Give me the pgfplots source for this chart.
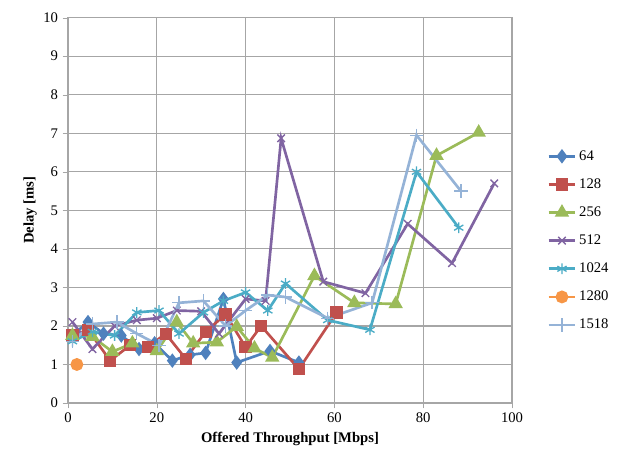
\documentclass[border=0pt]{standalone}
\usepackage{fontspec}
\setmainfont{Liberation Serif}
\usepackage{pgfplots}
\pgfplotsset{compat=1.18}
\usetikzlibrary{plotmarks}
\definecolor{c64}{HTML}{4F81BD}
\definecolor{c128}{HTML}{C0504D}
\definecolor{c256}{HTML}{9BBB59}
\definecolor{c512}{HTML}{8064A2}
\definecolor{c1024}{HTML}{4BACC6}
\definecolor{c1280}{HTML}{F79646}
\definecolor{c1518}{HTML}{95B3D7}
\definecolor{gridc}{HTML}{A6A6A6}
\begin{document}
\begin{tikzpicture}
\begin{axis}[
  scale only axis, width=333pt, height=289pt,
  xmin=0, xmax=100, ymin=0, ymax=10,
  xtick={0,20,...,100}, ytick={0,1,...,10},
  grid=major, major grid style={gridc, line width=0.9pt},
  axis line style={gridc, line width=0.9pt},
  tick style={gridc}, major tick length=4pt,
  tick align=outside, xtick pos=bottom, ytick pos=left,
  /pgf/number format/assume math mode=true,
  ticklabel style={font=\fontsize{11}{12}\selectfont},
  xlabel={\textbf{Offered Throughput [Mbps]}},
  ylabel={\textbf{Delay [ms]}},
  ylabel style={yshift=-2pt},
  label style={font=\fontsize{11}{13}\selectfont},
  every axis plot/.append style={line width=2pt},
  legend style={draw=none, at={(1.07,0.67)}, anchor=north west,
    font=\fontsize{11}{12}\selectfont, row sep=8.3pt},
  legend cell align=left,
  legend image code/.code={
    \draw[#1, mark=none] (0cm,0cm) -- (0.7cm,0cm);
    \draw[#1, only marks] plot coordinates {(0.35cm,0cm)};},
]
\addplot[c64, mark=diamond*, mark size=3.8pt] coordinates {
(1,1.75)(4.5,2.1)(8,1.8)(12,1.75)(16,1.4)(19.5,1.55)(23.5,1.1)(27.5,1.25)(31,1.3)(35,2.7)(38,1.05)(45.5,1.35)(52,1.05)};
\addlegendentry{64}
\addplot[c128, mark=square*, mark size=3.6pt] coordinates {
(1,1.75)(4.5,1.9)(9.5,1.1)(14,1.5)(18,1.45)(22,1.8)(26.5,1.15)(31,1.85)(35.5,2.3)(40,1.45)(43.5,2.0)(52,0.88)(60.5,2.35)};
\addlegendentry{128}
\addplot[c256, mark=triangle*, mark size=4.3pt] coordinates {
(1,1.75)(5.5,1.72)(10,1.33)(14.5,1.55)(20,1.35)(24.5,2.1)(28.2,1.55)(33.5,1.58)(38,1.98)(42,1.42)(46,1.18)(55.5,3.3)(64.5,2.6)(73.8,2.57)(83,6.42)(92.5,7.02)};
\addlegendentry{256}
\addplot[c512, mark=x, mark size=4pt, mark options={line width=1pt}] coordinates {
(1,2.1)(5.5,1.4)(10.5,2.0)(15.5,2.15)(20,2.2)(24.5,2.4)(30,2.38)(34,1.8)(40,2.7)(44.5,2.65)(48,6.87)(57.5,3.15)(67,2.85)(76.5,4.65)(86.5,3.63)(96,5.7)};
\addlegendentry{512}
\addplot[c1024, mark=asterisk, mark size=4pt, mark options={line width=1pt}] coordinates {
(1,1.6)(5.5,1.85)(10.5,1.75)(15.5,2.35)(20.5,2.4)(25,1.8)(30.5,2.35)(35,2.65)(40,2.87)(45,2.4)(49,3.1)(58.5,2.15)(68,1.9)(78.5,6.0)(88,4.55)};
\addlegendentry{1024}
\addplot[c1280, mark=*, mark size=3.8pt] coordinates {(2,1.0)};
\addlegendentry{1280}
\addplot[c1518, mark=+, mark size=5pt, mark options={line width=1pt}] coordinates {
(1,1.6)(5.5,2.05)(11,2.1)(15.5,1.8)(20.5,1.5)(25,2.6)(30.5,2.65)(35.5,2.0)(40,2.4)(45,2.8)(49,2.75)(58.5,2.2)(68.5,2.6)(78.5,6.95)(88.5,5.5)};
\addlegendentry{1518}
\end{axis}
\pgfresetboundingbox
\path[use as bounding box] (-51pt,-42.75pt) rectangle (416.25pt,302.25pt);
\end{tikzpicture}
\end{document}
